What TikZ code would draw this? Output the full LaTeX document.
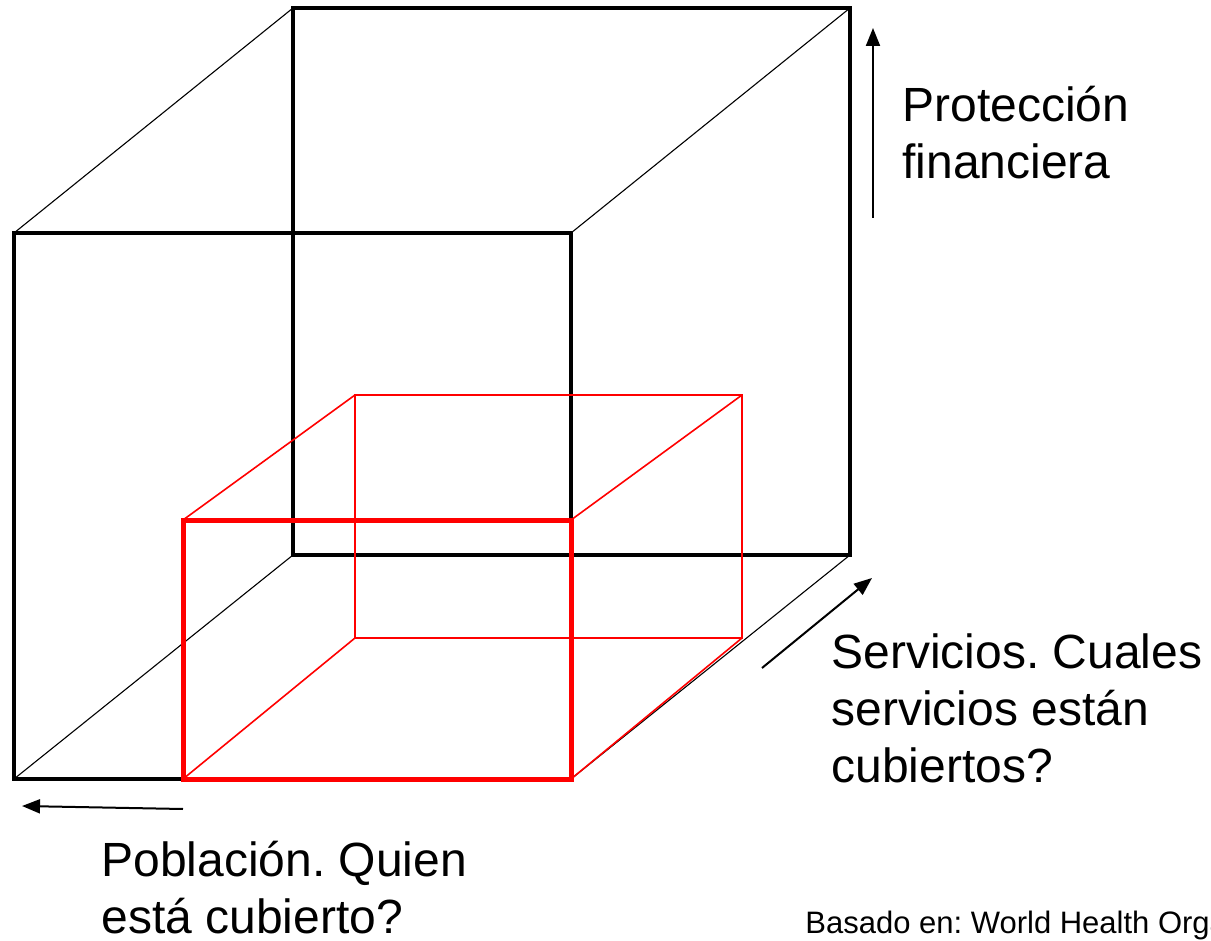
\documentclass[tikz,border=0pt]{standalone}
\usepackage{fontspec}
\setmainfont{Liberation Sans}
\usetikzlibrary{arrows.meta}
\frenchspacing

\begin{document}
\begin{tikzpicture}[x=0.5pt,y=-0.5pt,
        edge/.style={line width=2.4pt},
        diag/.style={line width=0.55pt},
        redge/.style={red, line width=2.5pt},
        rdiag/.style={red, line width=0.8pt},
        axis/.style={line width=1pt, -{Triangle[length=9pt,width=7pt]}},
        label/.style={anchor=base west, inner sep=0pt, align=left,
            font=\fontsize{24}{28.5}\selectfont}]
    \useasboundingbox (0,0) rectangle (1211,941);

    % Corners of the big cube (front F, back B)
    \coordinate (F1) at (14,233);
    \coordinate (F2) at (571,233);
    \coordinate (F3) at (571,779);
    \coordinate (F4) at (14,779);
    \coordinate (B1) at (293,8);
    \coordinate (B2) at (850,8);
    \coordinate (B3) at (850,555);
    \coordinate (B4) at (293,555);

    % Corners of the red box (front R, back S)
    \coordinate (R1) at (183,520);
    \coordinate (R2) at (571,520);
    \coordinate (R3) at (571,779);
    \coordinate (R4) at (183,779);
    \coordinate (S1) at (355,395);
    \coordinate (S2) at (742,395);
    \coordinate (S3) at (742,638);
    \coordinate (S4) at (355,638);

    % Draw the big cube
    \draw[edge] (B1) -- (B2) -- (B3) -- (B4) -- cycle;
    \draw[edge] (F1) -- (F2) -- (F3) -- (F4) -- cycle;
    \foreach \i in {1,2,3,4} {
        \draw[diag] (F\i) -- (B\i);
    }

    % Draw the red box
    \draw[rdiag] (S1) -- (S2) -- (S3) -- (S4) -- cycle;
    \foreach \i in {1,2,3,4} {
        \draw[rdiag] (R\i) -- (S\i);
    }
    \draw[redge] (R1) -- (R2) -- (R3) -- (R4) -- cycle;

    % Axis arrows
    \coordinate (upA) at (873,218);
    \coordinate (upB) at (873,28);
    \coordinate (leftA) at (183,809);
    \coordinate (leftB) at (22,806);
    \coordinate (diagA) at (762,668);
    \coordinate (diagB) at (872,578);
    \draw[axis] (upA) -- (upB);
    \draw[axis] (leftA) -- (leftB);
    \draw[axis] (diagA) -- (diagB);

    % Labels (anchored at the baseline of the last line)
    \node[label] (proteccion) at (902,179) {Protección\\financiera};
    \node[label] (servicios) at (831,782) {Servicios. Cuales\\servicios están\\cubiertos?};
    \node[label] (poblacion) at (101,933) {Población. Quien\\está cubierto?};
    \node[anchor=base west, inner sep=0pt, font=\fontsize{15.5}{18}\selectfont]
        (fuente) at (805,933) {Basado en: World Health Organization};
\end{tikzpicture}
\end{document}
